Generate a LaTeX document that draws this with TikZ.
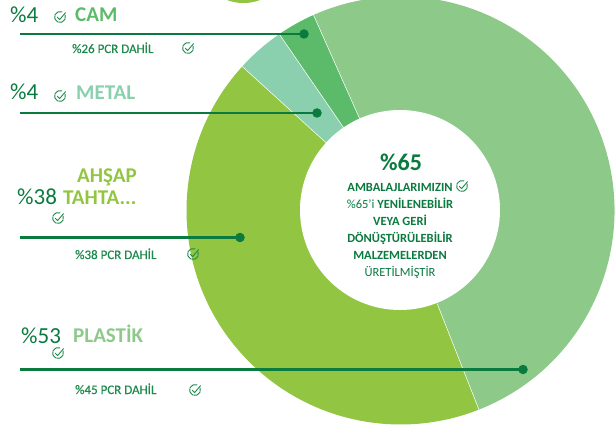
\documentclass[tikz,border=0pt]{standalone}
\usepackage{fontspec}
\setmainfont{Carlito}
\newfontfamily\pcrfont[FakeBold=0.4]{Carlito}
\usetikzlibrary{positioning}

\definecolor{plasticgreen}{HTML}{8DCA8A}
\definecolor{woodgreen}{HTML}{92C642}
\definecolor{metalgreen}{HTML}{8ACFAE}
\definecolor{glassgreen}{HTML}{5BBB6A}
\definecolor{leafdark}{HTML}{0A7A3F}
\definecolor{pcrgreen}{HTML}{1E8A4D}

\tikzset{
  pct/.style={inner sep=0pt, anchor=base west, text=leafdark, font=\fontsize{23}{23}\selectfont},
  cat/.style={inner sep=0pt, anchor=base west, font=\bfseries\fontsize{21}{21}\selectfont},
  pcr/.style={inner sep=0pt, anchor=base west, text=pcrgreen, font=\pcrfont\fontsize{13}{13}\selectfont},
  leader/.style={draw=leafdark, line width=2.6pt},
  leaderdot/.style={circle, fill=leafdark, inner sep=0pt, minimum size=9.5pt},
  chkicon/.pic={
    \draw[pcrgreen, line width=0.9pt, line cap=round] (-20:5.5) arc[start angle=-20, end angle=290, radius=5.5];
    \draw[pcrgreen, line width=0.9pt, line cap=round, line join=round] (-2.6,0.3) -- (-0.4,2.6) -- (5.6,-4.4);
  }
}

\begin{document}
\begin{tikzpicture}[x=1pt, y=-1pt]
    \useasboundingbox (0,0) rectangle (615,427);

    % cut-off shape at the top
    \fill[woodgreen] (243.5,-9) ellipse [x radius=25, y radius=12];

    % Donut
    \begin{scope}[shift={(400.5,210.5)}, yscale=-1]
        \foreach \from/\to/\tone in {-68.5/114/plasticgreen, 114/124.5/glassgreen, 124.5/137.7/metalgreen, 137.7/291.5/woodgreen}
            \fill[\tone] (0,0) -- (\from:214) arc[start angle=\from, end angle=\to, radius=214] -- cycle;
        \foreach \cut in {-68.5, 114, 124.5, 137.7}
            \draw[white, line width=0.5pt] (\cut:100) -- (\cut:214);
    \end{scope}
    \node (core) [circle, fill=white, inner sep=0pt, minimum size=200pt] at (400,210) {};

    % Centre text
    \node (share) [inner sep=0pt, anchor=base, text=leafdark, font=\bfseries\fontsize{24}{24}\selectfont] at (401,171) {\%65};
    \node (claim) [inner sep=0pt, anchor=north, align=center, text=leafdark, font=\fontsize{12.5}{17}\selectfont] at (400,183.5)
        {\textbf{AMBALAJLARIMIZIN}\\ \%65'i \textbf{YENİLENEBİLİR}\\ \textbf{VEYA GERİ}\\ \textbf{DÖNÜŞTÜRÜLEBİLİR}\\ \textbf{MALZEMELERDEN}\\ ÜRETİLMİŞTİR};
    \pic at (462,186) {chkicon};

    % CAM
    \node (campct) [pct] at (10,23) {\%4};
    \node (camname) [cat, text=glassgreen] at (75,22) {CAM};
    \pic at (60,17) {chkicon};
    \coordinate (camstart) at (20,34);
    \node (camdot) [leaderdot] at (304,34) {};
    \draw[leader] (camstart) -- (camdot.center);
    \node (campcr) [pcr] at (72,53) {\%26 PCR DAHİL};
    \pic at (188,48) {chkicon};

    % METAL
    \node (metalpct) [pct] at (10,100) {\%4};
    \node (metalname) [cat, text=metalgreen] at (76,100) {METAL};
    \pic at (60,96) {chkicon};
    \coordinate (metalstart) at (20,113);
    \node (metaldot) [leaderdot] at (317,113) {};
    \draw[leader] (metalstart) -- (metaldot.center);

    % AHSAP
    \node (woodname) [cat, text=woodgreen] at (77,183) {AHŞAP};
    \node (woodname2) [cat, text=woodgreen] at (63,205) {TAHTA...};
    \node (woodpct) [pct] at (17,205) {\%38};
    \pic at (58,218) {chkicon};
    \coordinate (woodstart) at (20,237.5);
    \node (wooddot) [leaderdot] at (240,237.5) {};
    \draw[leader] (woodstart) -- (wooddot.center);
    \node (woodpcr) [pcr] at (75,259) {\%38 PCR DAHİL};
    \pic at (193,254) {chkicon};

    % PLASTIK
    \node (plasticpct) [pct] at (21,343) {\%53};
    \node (plasticname) [cat, text=plasticgreen] at (73,342) {PLASTİK};
    \pic at (58,353) {chkicon};
    \coordinate (plasticstart) at (20,369.5);
    \node (plasticdot) [leaderdot] at (523,369.5) {};
    \draw[leader] (plasticstart) -- (plasticdot.center);
    \node (plasticpcr) [pcr] at (75,394) {\%45 PCR DAHİL};
    \pic at (195,390) {chkicon};
\end{tikzpicture}
\end{document}
